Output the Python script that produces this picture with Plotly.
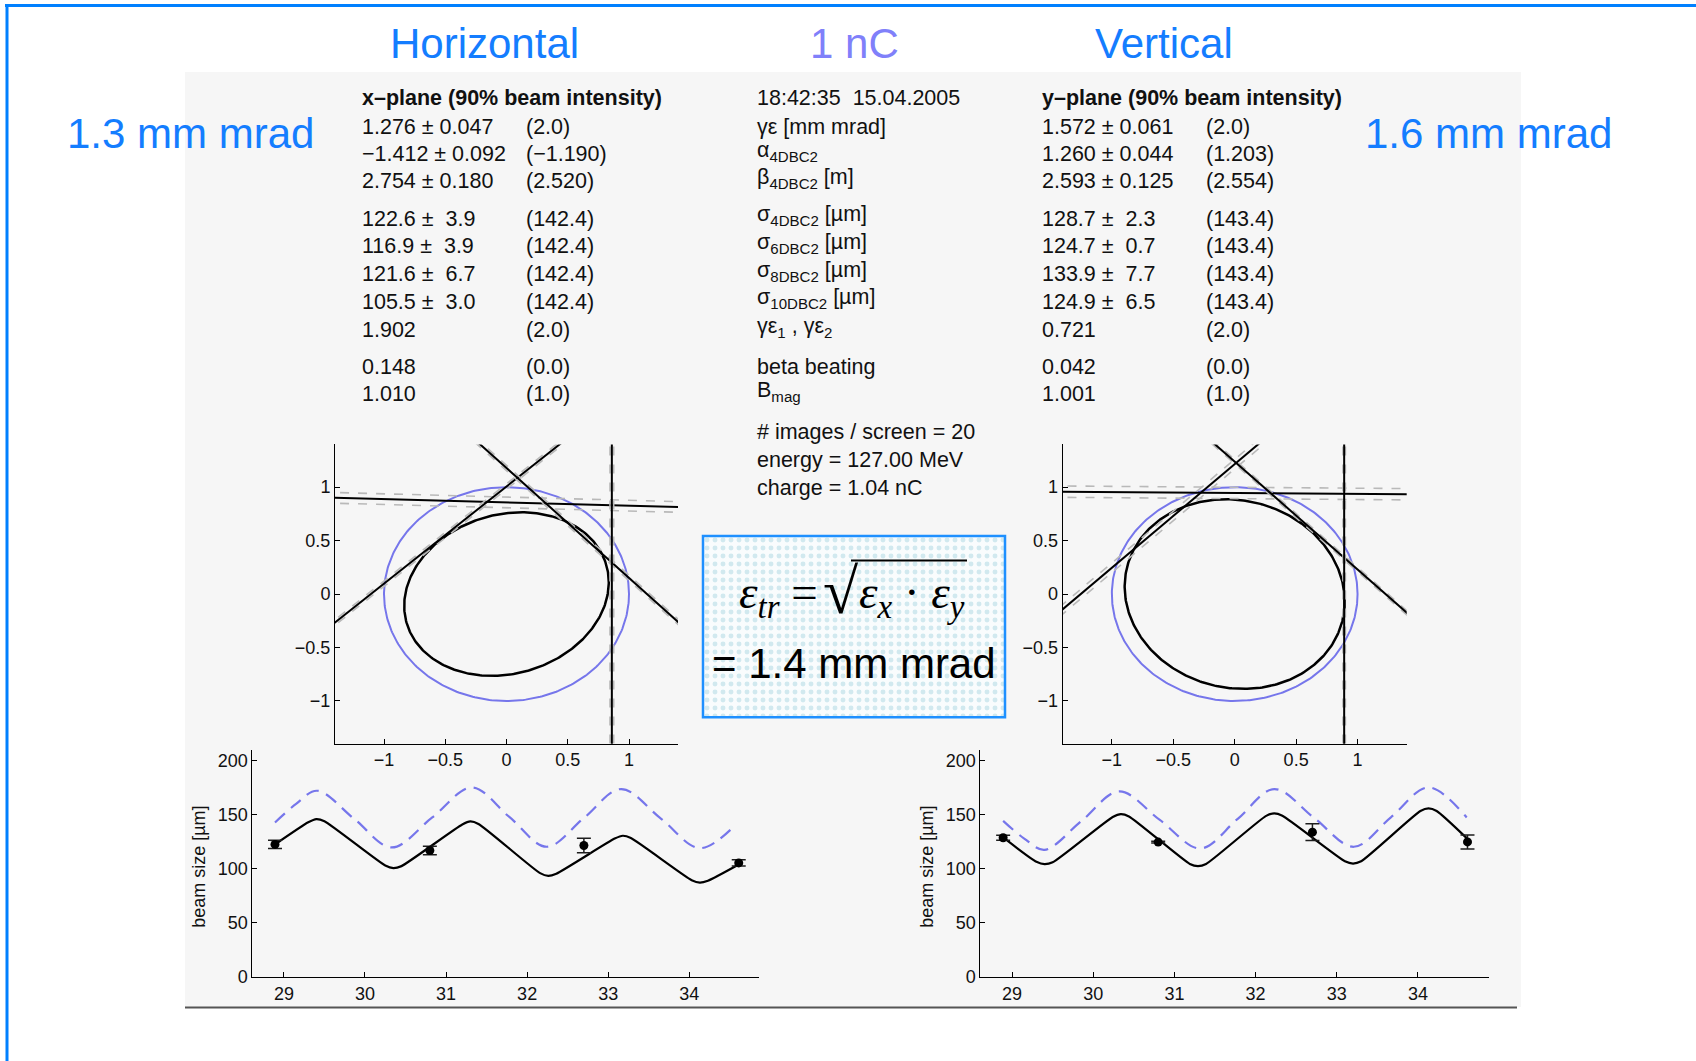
import numpy as np
import plotly.graph_objects as go

W, H = 1696, 1061
HM = 1050  # vertical mapping height (compensates the page's vertical squeeze)

# ------------------------------------------------------------------ data
col_titles = ["Horizontal", "1 nC", "Vertical"]
side_emittance = ["1.3 mm mrad", "1.6 mm mrad"]

x_header = "x–plane (90% beam intensity)"
y_header = "y–plane (90% beam intensity)"
x_values = ["1.276 ± 0.047", "−1.412 ± 0.092", "2.754 ± 0.180",
            "122.6 ±\u00a0\u00a03.9", "116.9 ±\u00a0\u00a03.9", "121.6 ±\u00a0\u00a06.7",
            "105.5 ±\u00a0\u00a03.0", "1.902", "0.148", "1.010"]
x_design = ["(2.0)", "(−1.190)", "(2.520)", "(142.4)", "(142.4)", "(142.4)",
            "(142.4)", "(2.0)", "(0.0)", "(1.0)"]
y_values = ["1.572 ± 0.061", "1.260 ± 0.044", "2.593 ± 0.125",
            "128.7 ±\u00a0\u00a02.3", "124.7 ±\u00a0\u00a00.7", "133.9 ±\u00a0\u00a07.7",
            "124.9 ±\u00a0\u00a06.5", "0.721", "0.042", "1.001"]
y_design = ["(2.0)", "(1.203)", "(2.554)", "(143.4)", "(143.4)", "(143.4)",
            "(143.4)", "(2.0)", "(0.0)", "(1.0)"]
row_labels = ["γε [mm mrad]", "α<sub>4DBC2</sub>", "β<sub>4DBC2</sub> [m]",
              "σ<sub>4DBC2</sub> [µm]", "σ<sub>6DBC2</sub> [µm]", "σ<sub>8DBC2</sub> [µm]",
              "σ<sub>10DBC2</sub> [µm]", "γε<sub>1</sub> , γε<sub>2</sub>",
              "beta beating", "B<sub>mag</sub>"]
timestamp = "18:42:35\u00a0\u00a015.04.2005"
info_lines = ["# images / screen = 20", "energy = 127.00 MeV", "charge = 1.04 nC"]
result_text = "= 1.4 mm mrad"

# phase-space plots (normalised coordinates)
phase_ticks = [-1, -0.5, 0, 0.5, 1]
design_radius = 1.0
# measured ellipse: x = a cos t + d sin t ; y = b sin t + c cos t
x_ellipse = {"a": 0.835, "b": 0.757, "c": 0.11, "d": 0.0}
y_ellipse = {"a": 0.893, "b": 0.887, "c": 0.0, "d": -0.07}
# screen constraint lines: two end points each, and their error spread
x_lines = [[(-1.4, 0.900), (1.4, 0.815)],
           [(-1.4, -0.266), (0.433, 1.4)],
           [(-0.215, 1.4), (1.4, -0.26)],
           [(0.86, -1.4), (0.86, 1.4)]]
x_line_spread = [0.05, 0.025, 0.025, 0.015]
y_lines = [[(-1.4, 0.958), (1.4, 0.934)],
           [(-1.4, -0.142), (0.19, 1.4)],
           [(-0.16, 1.4), (1.4, -0.174)],
           [(0.891, -1.4), (0.891, 1.4)]]
y_line_spread = [0.053, 0.045, 0.02, 0.01]

# beam size along the beamline
screen_pos = [28.89, 30.80, 32.70, 34.61]
x_sigma = [122.6, 116.9, 121.6, 105.5]
x_sigma_err = [3.9, 3.9, 6.7, 3.0]
y_sigma = [128.7, 124.7, 133.9, 124.9]
y_sigma_err = [2.3, 0.7, 7.7, 6.5]

x_fit_s = [28.89, 29.30, 29.40, 29.50, 30.25, 30.35, 30.45, 31.20, 31.30, 31.40,
           32.16, 32.26, 32.36, 33.08, 33.18, 33.28, 34.03, 34.13, 34.23, 34.61]
x_fit_size = [122.5, 143.0, 146.0, 144.0, 103.0, 100.6, 102.5, 141.0, 143.8, 141.5,
              96.0, 93.5, 95.5, 128.0, 130.6, 128.5, 89.5, 87.3, 89.0, 104.0]
x_des_s = [28.89, 29.15, 29.41, 29.87, 30.33, 30.83, 31.32, 31.78, 32.24, 32.70,
           33.16, 33.65, 34.13, 34.58]
x_des_size = [142.9, 160.0, 172.2, 146.0, 119.8, 147.5, 175.3, 148.0, 120.4, 147.0,
              173.8, 146.5, 119.1, 141.4]

y_fit_s = [28.89, 29.30, 29.40, 29.50, 30.24, 30.34, 30.44, 31.19, 31.29, 31.39,
           32.13, 32.23, 32.33, 33.10, 33.20, 33.30, 34.03, 34.13, 34.23, 34.60]
y_fit_size = [129.0, 106.5, 104.3, 106.0, 148.0, 150.6, 148.5, 104.5, 102.5, 104.5,
              149.0, 151.2, 149.0, 107.0, 104.9, 107.0, 153.5, 155.9, 153.5, 128.4]
y_des_s = [28.89, 29.15, 29.40, 29.86, 30.32, 30.82, 31.32, 31.78, 32.23, 32.72,
           33.21, 33.67, 34.13, 34.60]
y_des_size = [144.4, 128.0, 117.6, 144.6, 171.6, 145.2, 118.8, 146.3, 173.8, 147.1,
              120.4, 147.9, 175.3, 147.5]

size_ticks = [0, 50, 100, 150, 200]
s_ticks = [29, 30, 31, 32, 33, 34]

# ------------------------------------------------------------------ styles
BLUE_T = "rgb(20,125,255)"
NC_COL = "rgb(128,128,250)"
DESIGN = "rgb(118,118,235)"
SANS = "Liberation Sans, Arial, sans-serif"
SERIF = "Liberation Serif, Times New Roman, serif"


def px(x):
    return x / W


def py(y):
    return 1 - y / HM


fig = go.Figure()
annotations = []
shapes = []


def ann(x, y, text, size, color="#111", xa="left", ya="middle", family=SANS, angle=0):
    annotations.append(dict(x=px(x), y=py(y), xref="paper", yref="paper", text=text,
                            showarrow=False, xanchor=xa, yanchor=ya, textangle=angle,
                            font=dict(size=size, color=color, family=family)))


# background panel, frame, rule
shapes.append(dict(type="rect", xref="paper", yref="paper", x0=px(185), x1=px(1521),
                   y0=py(1006), y1=py(72), fillcolor="rgb(246,246,246)",
                   line=dict(width=0), layer="below"))
shapes.append(dict(type="line", xref="paper", yref="paper", x0=px(5), x1=px(1696),
                   y0=py(5.5), y1=py(5.5), line=dict(color="rgb(0,128,255)", width=3)))
shapes.append(dict(type="line", xref="paper", yref="paper", x0=px(7), x1=px(7),
                   y0=py(4), y1=-0.05, line=dict(color="rgb(0,128,255)", width=3)))
shapes.append(dict(type="line", xref="paper", yref="paper", x0=px(185), x1=px(1517),
                   y0=py(1006.5), y1=py(1006.5), line=dict(color="rgb(85,85,85)", width=2)))

# formula box (dotted fill drawn as a patterned trace below, outline here)
BOX = (703, 1005, 535.5, 716.5)
shapes.append(dict(type="rect", xref="paper", yref="paper", x0=px(BOX[0]), x1=px(BOX[1]),
                   y0=py(BOX[3]), y1=py(BOX[2]), fillcolor="rgba(0,0,0,0)",
                   line=dict(color="rgb(30,144,255)", width=2.5)))
shapes.append(dict(type="line", xref="paper", yref="paper", x0=px(851), x1=px(967),
                   y0=py(560), y1=py(560), line=dict(color="black", width=2)))
fig.add_trace(go.Scatter(x=[0, 1, 1, 0, 0], y=[0, 0, 1, 1, 0], mode="lines",
                         fill="toself", line=dict(width=0), fillcolor="rgb(248,252,253)",
                         fillpattern=dict(shape=".", fgcolor="rgb(170,214,226)",
                                          bgcolor="rgb(249,252,253)", size=8, solidity=0.3),
                         xaxis="x5", yaxis="y5", hoverinfo="skip"))

# titles
ann(484, 43, col_titles[0], 42, BLUE_T, xa="center")
ann(854, 43, col_titles[1], 42, NC_COL, xa="center")
ann(1164, 43, col_titles[2], 42, BLUE_T, xa="center")
ann(190, 133, side_emittance[0], 42, BLUE_T, xa="center")
ann(1488, 133, side_emittance[1], 42, BLUE_T, xa="center")

# table
ROW_Y = [126.7, 154, 181, 218.3, 246, 274, 301.7, 330, 366.7, 394]
FS = 21.5
ann(360, 98.3, "<b>" + x_header + "</b>", FS)
ann(1039.5, 98.3, "<b>" + y_header + "</b>", FS)
ann(755, 98.3, timestamp, FS)
for i, yy in enumerate(ROW_Y):
    ann(360, yy, x_values[i], FS)
    ann(523.5, yy, x_design[i], FS)
    ann(1039.5, yy, y_values[i], FS)
    ann(1203.5, yy, y_design[i], FS)
    lab = row_labels[i]
    ann(755, yy - (3 if "<sub>" in lab else 0), lab, FS)
for i, yy in enumerate([432, 460, 487.3]):
    ann(755, yy, info_lines[i], FS)

# formula
ann(820, 595, "<i>ε</i><sub><i>tr</i></sub>\u00a0=", 47, "black", xa="right", family=SERIF)
ann(841, 591, "√", 64, "black", xa="center", family=SERIF)
ann(857, 595, "<i>ε</i><sub><i>x</i></sub> · <i>ε</i><sub><i>y</i></sub>", 47, "black",
    family=SERIF)
ann(854, 663, result_text, 42, "black", xa="center")

# y-axis titles of beam size plots
ann(199, 866, "beam size [µm]", 18, "#111", xa="center", angle=-90)
ann(927, 866, "beam size [µm]", 18, "#111", xa="center", angle=-90)


# ------------------------------------------------------------------ phase plots
def add_phase(xa, ya, ell, lines, spread):
    t = np.linspace(0, 2 * np.pi, 361)
    fig.add_trace(go.Scatter(x=design_radius * np.cos(t), y=design_radius * np.sin(t),
                             mode="lines", line=dict(color=DESIGN, width=2),
                             xaxis=xa, yaxis=ya, hoverinfo="skip"))
    ex = ell["a"] * np.cos(t) + ell["d"] * np.sin(t)
    ey = ell["b"] * np.sin(t) + ell["c"] * np.cos(t)
    fig.add_trace(go.Scatter(x=ex, y=ey, mode="lines", line=dict(color="black", width=2.5),
                             xaxis=xa, yaxis=ya, hoverinfo="skip"))
    for (p0, p1), sp in zip(lines, spread):
        x0, y0 = p0
        x1, y1 = p1
        vertical = abs(x1 - x0) < 1e-6
        ext = np.array([-0.3, 1.3])
        lx = x0 + (x1 - x0) * ext
        ly = y0 + (y1 - y0) * ext
        for s in (-sp, sp):
            fig.add_trace(go.Scatter(x=lx + (s if vertical else 0), y=ly + (0 if vertical else s),
                                     mode="lines",
                                     line=dict(color="rgb(185,185,185)", width=1.6, dash="dash"),
                                     xaxis=xa, yaxis=ya, hoverinfo="skip"))
        fig.add_trace(go.Scatter(x=lx, y=ly, mode="lines", line=dict(color="black", width=2),
                                 xaxis=xa, yaxis=ya, hoverinfo="skip"))


add_phase("x", "y", x_ellipse, x_lines, x_line_spread)
add_phase("x2", "y2", y_ellipse, y_lines, y_line_spread)


# ------------------------------------------------------------------ beam size plots
def add_size(xa, ya, des_s, des, fit_s, fit, sig, err):
    fig.add_trace(go.Scatter(x=des_s, y=des, mode="lines", line_shape="spline",
                             line=dict(color=DESIGN, width=2.2, dash="13px,8px", smoothing=1.0),
                             xaxis=xa, yaxis=ya, hoverinfo="skip"))
    fig.add_trace(go.Scatter(x=fit_s, y=fit, mode="lines", line_shape="spline",
                             line=dict(color="black", width=2.2, smoothing=0.6),
                             xaxis=xa, yaxis=ya, hoverinfo="skip"))
    fig.add_trace(go.Scatter(x=screen_pos, y=sig, mode="markers",
                             marker=dict(color="black", size=9),
                             error_y=dict(type="data", array=err, color="rgb(30,30,30)",
                                          thickness=1.5, width=7),
                             xaxis=xa, yaxis=ya, hoverinfo="skip"))


add_size("x3", "y3", x_des_s, x_des_size, x_fit_s, x_fit_size, x_sigma, x_sigma_err)
add_size("x4", "y4", y_des_s, y_des_size, y_fit_s, y_fit_size, y_sigma, y_sigma_err)

# ------------------------------------------------------------------ axes
tickfont = dict(family=SANS, size=18, color="#111")


def axis(domain, rng, tickvals, anchor):
    return dict(domain=domain, range=rng, tickvals=tickvals, anchor=anchor,
                showgrid=False, zeroline=False, showline=True, linecolor="black",
                linewidth=1, ticks="inside", ticklen=5, tickcolor="black",
                tickfont=tickfont, fixedrange=True)


def hidden_axis(domain, anchor):
    return dict(domain=domain, range=[0, 1], anchor=anchor, visible=False,
                showgrid=False, zeroline=False, fixedrange=True)


PY0, PY1 = py(743), py(444)
BY0, BY1 = py(976), py(749.2)
layout_axes = dict(
    xaxis=axis([px(335), px(678)], [-1.4, 1.4], phase_ticks, "y"),
    yaxis=axis([PY0, PY1], [-1.4, 1.4], phase_ticks, "x"),
    xaxis2=axis([px(1062.7), px(1406.7)], [-1.4, 1.4], phase_ticks, "y2"),
    yaxis2=axis([PY0, PY1], [-1.4, 1.4], phase_ticks, "x2"),
    xaxis3=axis([px(252.3), px(759.4)], [28.61, 34.865], s_ticks, "y3"),
    yaxis3=axis([BY0, BY1], [0, 210], size_ticks, "x3"),
    xaxis4=axis([px(980.4), px(1488.6)], [28.61, 34.87], s_ticks, "y4"),
    yaxis4=axis([BY0, BY1], [0, 210], size_ticks, "x4"),
    xaxis5=hidden_axis([px(BOX[0]), px(BOX[1])], "y5"),
    yaxis5=hidden_axis([py(BOX[3]), py(BOX[2])], "x5"),
)

fig.update_layout(width=W, height=H, margin=dict(l=0, r=0, t=0, b=0),
                  paper_bgcolor="white", plot_bgcolor="rgba(0,0,0,0)",
                  showlegend=False, annotations=annotations, shapes=shapes,
                  font=dict(family=SANS), **layout_axes)

fig.write_html("out.html")
